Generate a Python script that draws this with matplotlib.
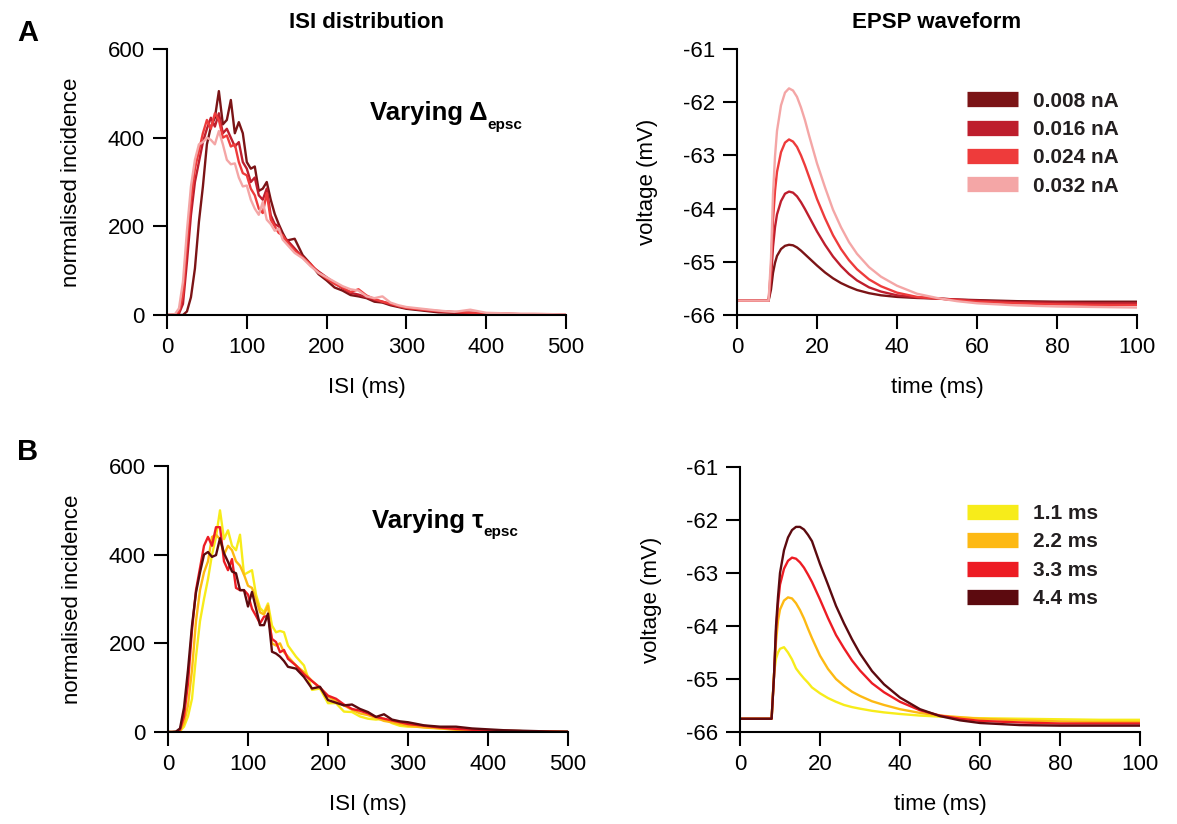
import numpy as np
import matplotlib
matplotlib.use("Agg")
import matplotlib.pyplot as plt
from matplotlib.lines import Line2D

plt.rcParams['font.family'] = ['Liberation Sans', 'DejaVu Sans']
plt.rcParams['axes.unicode_minus'] = False

# ISI bin centres (ms)
isi_ms = list(range(0, 150, 5)) + list(range(150, 300, 10)) + list(range(300, 501, 20))

# panel A: ISI histograms for different EPSC amplitudes
isi_a_008 = [0, 0, 0, 0, 0, 8, 40, 105, 210, 290, 385, 425, 445, 505, 430, 440, 485, 410, 435, 410,
             345, 330, 335, 280, 285, 300, 260, 228, 205, 185,
             168, 172, 135, 115, 92, 78, 62, 55, 45, 42, 38, 30, 28, 22, 18,
             14, 10, 6, 5, 4, 3, 2, 1, 1, 0, 0]
isi_a_016 = [0, 0, 0, 3, 25, 120, 225, 300, 345, 390, 420, 445, 425, 455, 410, 420, 400, 380, 390, 345,
             330, 300, 310, 270, 260, 285, 225, 205, 200, 175,
             170, 150, 130, 112, 98, 85, 72, 60, 50, 46, 40, 34, 30, 24, 20,
             16, 12, 8, 6, 5, 4, 3, 2, 1, 1, 0]
isi_a_024 = [0, 0, 1, 8, 45, 160, 260, 330, 370, 410, 440, 420, 455, 440, 400, 405, 380, 385, 345, 320,
             315, 285, 270, 240, 230, 275, 215, 200, 185, 180,
             165, 145, 130, 115, 95, 82, 70, 62, 52, 58, 44, 36, 30, 26, 20,
             16, 12, 9, 7, 5, 4, 3, 2, 1, 1, 0]
isi_a_032 = [0, 0, 2, 15, 75, 190, 290, 350, 385, 390, 400, 395, 385, 415, 385, 350, 340, 342, 310, 290,
             292, 260, 240, 226, 255, 215, 205, 190, 195, 170,
             160, 140, 128, 110, 95, 85, 75, 65, 58, 55, 42, 38, 42, 28, 22,
             18, 14, 10, 7, 12, 5, 4, 3, 3, 2, 1]

# panel B: ISI histograms for different EPSC time constants
isi_b_11 = [0, 0, 0, 2, 12, 35, 75, 170, 250, 300, 345, 400, 440, 500, 435, 455, 420, 410, 445, 355,
            360, 365, 310, 280, 270, 290, 240, 225, 228, 225,
            195, 170, 150, 95, 98, 65, 65, 46, 45, 35, 30, 28, 30, 20, 14,
            12, 12, 8, 6, 5, 3, 2, 2, 1, 1, 0]
isi_b_22 = [0, 0, 0, 3, 20, 60, 140, 250, 320, 360, 385, 440, 445, 435, 400, 420, 410, 385, 375, 355,
            330, 325, 300, 270, 265, 285, 200, 195, 200, 180,
            170, 150, 135, 115, 100, 80, 70, 60, 50, 42, 38, 32, 25, 22, 18,
            14, 10, 8, 5, 4, 3, 2, 2, 1, 1, 0]
isi_b_33 = [0, 0, 0, 5, 35, 110, 230, 320, 370, 420, 440, 420, 462, 462, 385, 365, 390, 325, 320, 320,
            310, 278, 262, 245, 260, 262, 210, 203, 180, 185,
            165, 150, 130, 115, 100, 82, 75, 62, 52, 48, 42, 34, 30, 26, 22,
            18, 14, 10, 7, 5, 4, 3, 2, 1, 1, 0]
isi_b_44 = [0, 0, 1, 8, 55, 140, 240, 315, 360, 400, 406, 395, 399, 437, 403, 384, 362, 358, 320, 320,
            283, 316, 279, 241, 241, 267, 181, 177, 170, 160,
            147, 143, 124, 98, 102, 72, 66, 60, 62, 52, 45, 34, 40, 28, 24,
            22, 15, 12, 12, 8, 6, 4, 3, 2, 1, 1]

# EPSP waveforms (time in ms, voltage in mV)
t_ms = [0, 7.9, 8.5, 9, 9.5, 10, 11, 12, 13, 14, 15, 16, 17, 18, 20, 22, 24, 26, 28, 30,
        33, 36, 40, 45, 50, 55, 60, 70, 80, 90, 100]

v_a_008 = [-65.73, -65.73, -65.52, -65.21, -65.02, -64.89, -64.76, -64.70, -64.68, -64.69, -64.73,
           -64.79, -64.86, -64.93, -65.07, -65.20, -65.31, -65.40, -65.47, -65.53, -65.59, -65.63,
           -65.66, -65.68, -65.69, -65.71, -65.72, -65.74, -65.75, -65.75, -65.75]
v_a_016 = [-65.73, -65.73, -65.32, -64.72, -64.35, -64.11, -63.86, -63.72, -63.68, -63.70, -63.77,
           -63.88, -64.01, -64.15, -64.43, -64.68, -64.90, -65.08, -65.23, -65.35, -65.48, -65.56,
           -65.63, -65.67, -65.69, -65.71, -65.73, -65.76, -65.77, -65.78, -65.78]
v_a_024 = [-65.73, -65.73, -65.12, -64.22, -63.67, -63.31, -62.94, -62.76, -62.70, -62.74, -62.84,
           -63.00, -63.19, -63.40, -63.82, -64.18, -64.50, -64.76, -64.97, -65.14, -65.33, -65.46,
           -65.58, -65.66, -65.69, -65.72, -65.75, -65.78, -65.80, -65.81, -65.81]
v_a_032 = [-65.73, -65.73, -64.93, -63.73, -63.02, -62.54, -62.06, -61.82, -61.74, -61.78, -61.90,
           -62.10, -62.34, -62.62, -63.15, -63.60, -64.02, -64.35, -64.63, -64.85, -65.10, -65.28,
           -65.45, -65.60, -65.68, -65.74, -65.78, -65.82, -65.84, -65.85, -65.86]

v_b_11 = [-65.75, -65.75, -64.90, -64.62, -64.50, -64.43, -64.40, -64.50, -64.63, -64.80, -64.90,
          -64.99, -65.07, -65.16, -65.27, -65.36, -65.43, -65.49, -65.53, -65.56, -65.60, -65.63,
          -65.66, -65.69, -65.71, -65.73, -65.74, -65.75, -65.76, -65.77, -65.77]
v_b_22 = [-65.75, -65.75, -64.95, -64.30, -63.90, -63.69, -63.52, -63.46, -63.48, -63.57, -63.70,
          -63.86, -64.05, -64.23, -64.56, -64.81, -65.00, -65.13, -65.24, -65.32, -65.42, -65.49,
          -65.57, -65.64, -65.69, -65.72, -65.75, -65.78, -65.80, -65.81, -65.81]
v_b_33 = [-65.75, -65.75, -64.95, -64.10, -63.58, -63.22, -62.92, -62.77, -62.71, -62.73, -62.80,
          -62.90, -63.03, -63.17, -63.50, -63.85, -64.17, -64.42, -64.65, -64.84, -65.08, -65.25,
          -65.43, -65.59, -65.69, -65.75, -65.79, -65.82, -65.84, -65.84, -65.84]
v_b_44 = [-65.75, -65.75, -64.95, -64.00, -63.45, -63.00, -62.57, -62.33, -62.19, -62.13, -62.13,
          -62.18, -62.28, -62.40, -62.83, -63.22, -63.62, -63.95, -64.25, -64.52, -64.85, -65.10,
          -65.35, -65.57, -65.70, -65.78, -65.83, -65.87, -65.88, -65.88, -65.88]

labels_a = ['0.008 nA', '0.016 nA', '0.024 nA', '0.032 nA']
colors_a = ['#7b1416', '#be1e2d', '#ee3b3b', '#f4a6a6']
labels_b = ['1.1 ms', '2.2 ms', '3.3 ms', '4.4 ms']
colors_b = ['#f7ec1a', '#fdb913', '#ed1c24', '#5c0a0f']

isi_a = [isi_a_008, isi_a_016, isi_a_024, isi_a_032]
isi_b = [isi_b_11, isi_b_22, isi_b_33, isi_b_44]
epsp_a = [v_a_008, v_a_016, v_a_024, v_a_032]
epsp_b = [v_b_11, v_b_22, v_b_33, v_b_44]

W, H = 1177, 824
fig = plt.figure(figsize=(W / 100, H / 100), dpi=100)


def px_axes(x0, y_top, x1, y_bot):
    return fig.add_axes([x0 / W, 1 - y_bot / H, (x1 - x0) / W, (y_bot - y_top) / H])


def style(ax):
    for s in ['top', 'right']:
        ax.spines[s].set_visible(False)
    for s in ['left', 'bottom']:
        ax.spines[s].set_linewidth(1.5)
    ax.tick_params(length=10, width=1.5, labelsize=16, pad=6)


def isi_panel(ax, curves, colors, title_txt, greek, text_y):
    for y, c in zip(curves, colors):
        ax.plot(isi_ms, y, color=c, lw=1.7)
    ax.set_xlim(0, 500)
    ax.set_ylim(0, 600)
    ax.set_xticks([0, 100, 200, 300, 400, 500])
    ax.set_yticks([0, 200, 400, 600])
    style(ax)
    ax.set_xlabel('ISI (ms)', fontsize=16, va='center')
    ax.xaxis.set_label_coords(0.5, -0.274)
    ax.set_ylabel('normalised incidence', fontsize=16, va='center')
    ax.yaxis.set_label_coords(-0.24, 0.5)
    t = ax.text(0.509, text_y, 'Varying ' + greek, transform=ax.transAxes, fontsize=18.5,
                fontweight='bold', ha='left', va='center')
    ax.annotate('epsc', xy=(1.0, 0.3), xycoords=t, fontsize=11, fontweight='bold',
                ha='left', va='top')
    if title_txt:
        ax.text(0.5, 1.10, title_txt, transform=ax.transAxes, fontsize=16,
                fontweight='bold', ha='center', va='center')


def epsp_panel(ax, curves, colors, labels, title_txt, anchor):
    for y, c in zip(curves, colors):
        ax.plot(t_ms, y, color=c, lw=1.7)
    ax.set_xlim(0, 100)
    ax.set_ylim(-66, -61)
    ax.set_xticks([0, 20, 40, 60, 80, 100])
    ax.set_yticks([-66, -65, -64, -63, -62, -61])
    style(ax)
    ax.set_xlabel('time (ms)', fontsize=16, va='center')
    ax.xaxis.set_label_coords(0.5, -0.274)
    ax.set_ylabel('voltage (mV)', fontsize=16, va='center')
    ax.yaxis.set_label_coords(-0.2225, 0.5)
    handles = [Line2D([], [], color=c, lw=11, solid_capstyle='butt') for c in colors]
    leg = ax.legend(handles, labels, loc='upper left', bbox_to_anchor=anchor, frameon=False,
                    borderpad=0, borderaxespad=0, handlelength=2.45, handletextpad=0.7,
                    labelspacing=0.45, prop={'size': 15, 'weight': 'bold'})
    for txt in leg.get_texts():
        txt.set_color('#231f20')
    if title_txt:
        ax.text(0.5, 1.10, title_txt, transform=ax.transAxes, fontsize=16,
                fontweight='bold', ha='center', va='center')


ax1 = px_axes(167, 49, 566, 315)
isi_panel(ax1, isi_a, colors_a, 'ISI distribution', 'Δ', 0.76)
ax2 = px_axes(737, 49, 1137, 315)
epsp_panel(ax2, epsp_a, colors_a, labels_a, 'EPSP waveform', (0.575, 0.84))
ax3 = px_axes(168, 466, 568, 732)
isi_panel(ax3, isi_b, colors_b, None, 'τ', 0.795)
ax4 = px_axes(740, 467, 1140, 732)
epsp_panel(ax4, epsp_b, colors_b, labels_b, None, (0.5675, 0.86))

fig.text(28 / W, 1 - 33 / H, 'A', fontsize=21, fontweight='bold', ha='center', va='center')
fig.text(28 / W, 1 - 452 / H, 'B', fontsize=21, fontweight='bold', ha='center', va='center')

fig.savefig('out.png', dpi=100)
